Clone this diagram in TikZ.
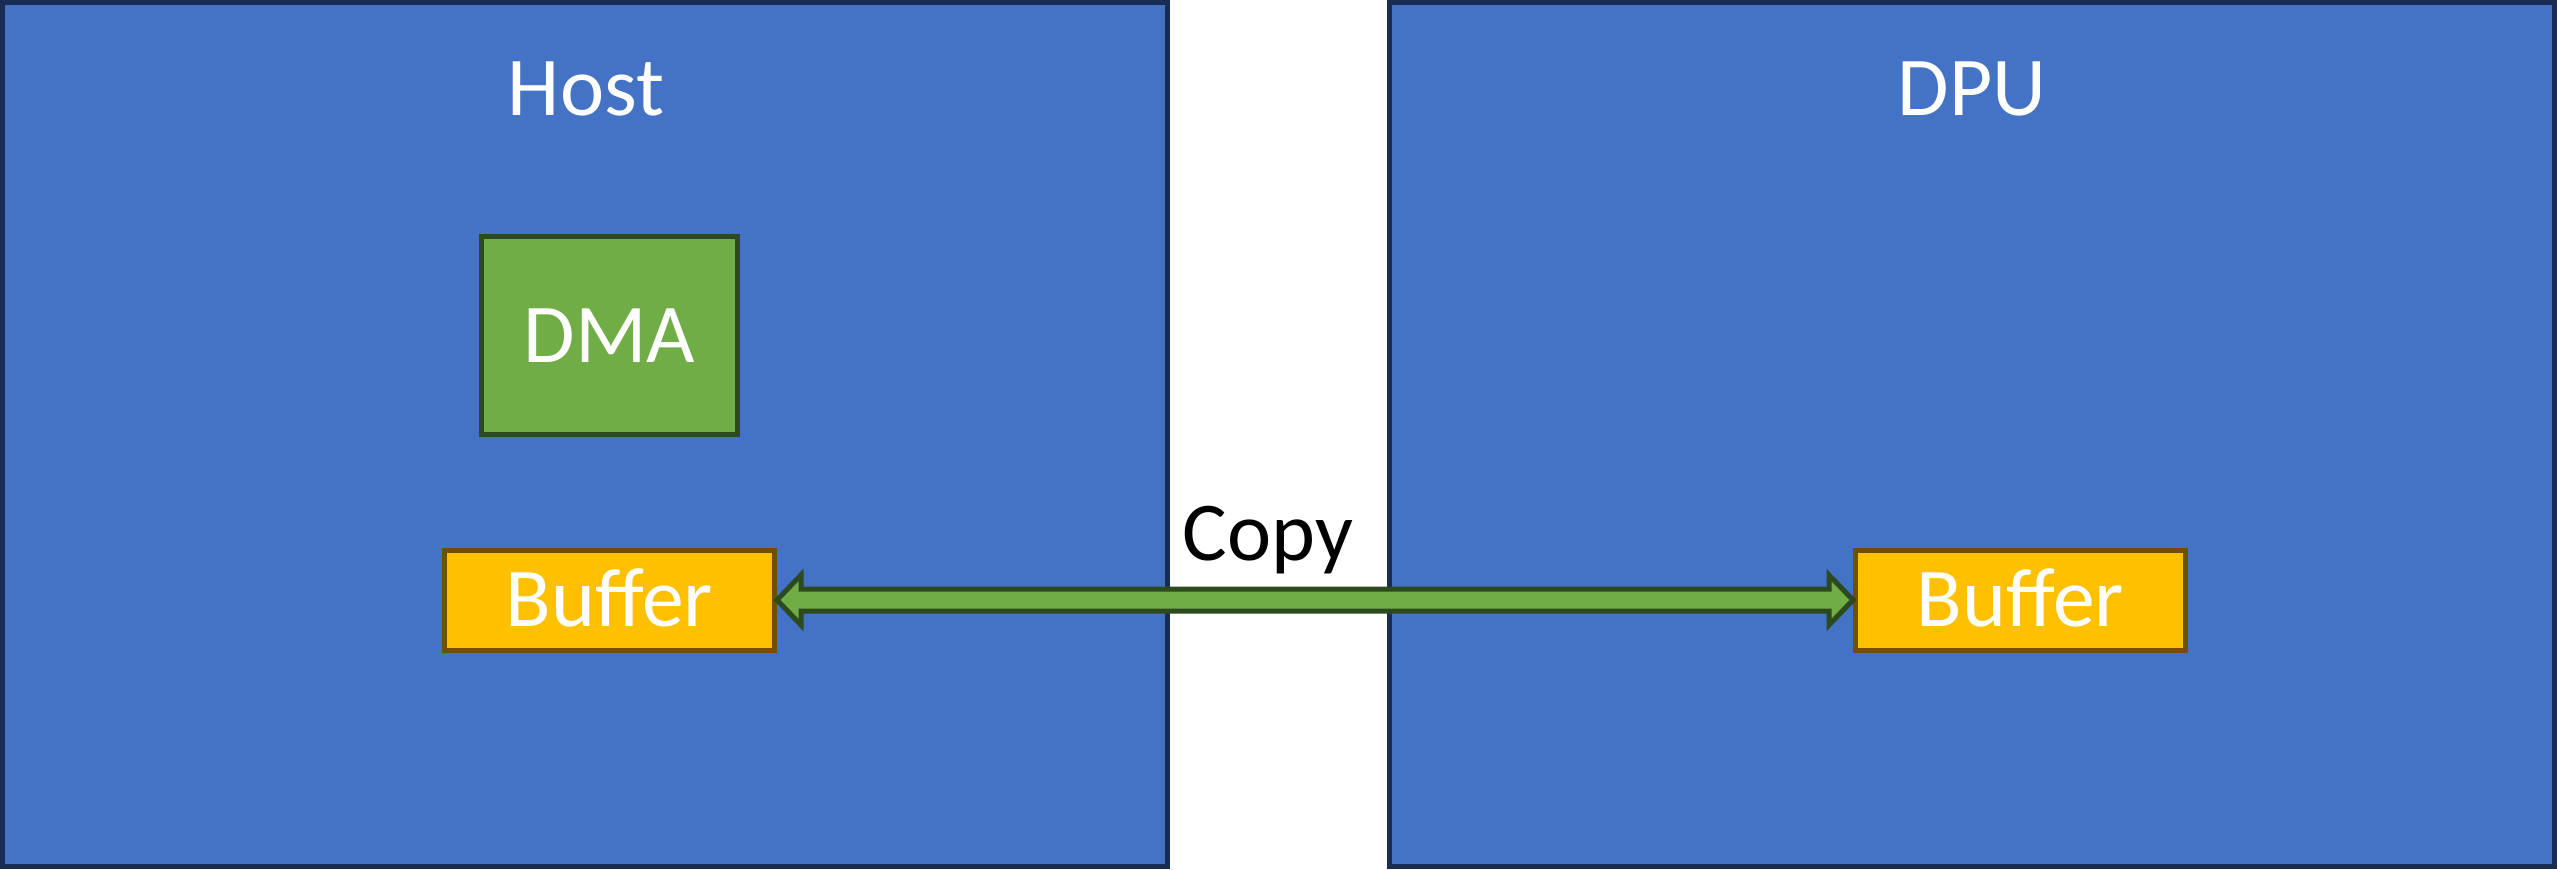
\documentclass[tikz,border=0pt]{standalone}
\usepackage{fontspec}
\setmainfont{Carlito}
\usetikzlibrary{calc}
\definecolor{boxblue}{HTML}{4472C4}
\definecolor{boxnavy}{HTML}{1A2C52}
\definecolor{dmagreen}{HTML}{70AD47}
\definecolor{darkgreen}{HTML}{2D4A1E}
\definecolor{bufgold}{HTML}{FFC000}
\definecolor{bufbrown}{HTML}{6E5000}
\tikzset{
  bigfont/.style={font=\fontsize{23.8pt}{28pt}\selectfont},
  region/.style={draw=boxnavy, fill=boxblue, line width=5*0.01cm},
  regionlabel/.style={bigfont, text=white, anchor=base, inner sep=0pt},
  dmabox/.style={draw=darkgreen, fill=dmagreen, line width=5*0.01cm, bigfont, text=white,
    minimum width=256*0.01cm, minimum height=198*0.01cm, text height=0.53cm, text depth=0pt, inner sep=0pt},
  bufbox/.style={draw=bufbrown, fill=bufgold, line width=5*0.01cm, bigfont, text=white,
    minimum width=330*0.01cm, minimum height=100*0.01cm, text height=0.53cm, text depth=0pt, inner sep=0pt},
  blockarrow/.style={draw=darkgreen, fill=dmagreen, line width=5*0.01cm, line join=miter},
  copylabel/.style={bigfont, text=black, anchor=base, inner sep=0pt}
}
\begin{document}
\begin{tikzpicture}[x=0.01cm, y=-0.01cm]
\useasboundingbox (0,0) rectangle (2557,869);
\path[region] (2.5,2.5) rectangle (1167.5,866.5);
\path[region] (1389.5,2.5) rectangle (2554.5,866.5);
\node[regionlabel] (host) at (586,115) {Host};
\node[regionlabel] (dpu) at (1972,115) {DPU};
\node[copylabel] (copy) at (1268,560) {Copy};
\node[dmabox] (dma) at (609.5,335.5) {DMA};
\node[bufbox] (bufL) at (609.5,600) {Buffer};
\node[bufbox] (bufR) at (2020.5,600) {Buffer};
\draw[blockarrow] (bufL.east)
  -- ($(bufL.east)+(24,-25)$) -- ($(bufL.east)+(24,-11)$)
  -- ($(bufR.west)+(-24,-11)$) -- ($(bufR.west)+(-24,-25)$)
  -- (bufR.west)
  -- ($(bufR.west)+(-24,25)$) -- ($(bufR.west)+(-24,11)$)
  -- ($(bufL.east)+(24,11)$) -- ($(bufL.east)+(24,25)$)
  -- cycle;
\end{tikzpicture}
\end{document}
